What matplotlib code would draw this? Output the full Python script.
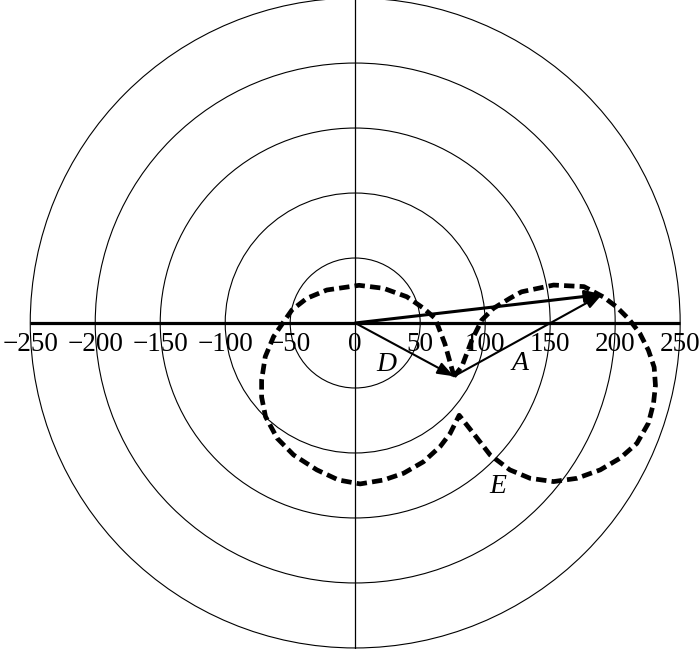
import matplotlib
matplotlib.use("Agg")
import matplotlib.pyplot as plt
from matplotlib.patches import Circle, FancyArrowPatch

# ---- Data ----
ring_radii = [50, 100, 150, 200, 250]
tick_values = [-250, -200, -150, -100, -50, 0, 50, 100, 150, 200, 250]
tick_labels = ["\u2212250", "\u2212200", "\u2212150", "\u2212100", "\u221250",
               "0", "50", "100", "150", "200", "250"]

origin = (0, 0)
d_tip = (76, -41)      # end of vector D
a_tip = (190, 22)      # end of vector A (= D + A)

# locus E, traced from the upper cusp round the left lobe, then the right lobe
E_x = [76, 69, 61.5, 52.6, 39.7, 21.8, 3, -21.8, -37.2, -48.7, -55, -62.8, -69.2,
       -72, -72, -69, -60, -47.4, -29.5, -12.8, 3.8, 21.8, 37.2, 52.6, 65.4, 73,
       80, 91, 103.8, 119, 134.6, 152.6, 170.5, 188.5, 203.8, 216.7, 225.6, 229.5,
       231, 230, 225.6, 219, 211, 201, 191, 176, 152.6, 128, 119, 106.4, 97.4,
       89.8, 82, 76]
E_y = [-41, -16, 3.6, 11.3, 20.2, 26.7, 29, 25.4, 19, 10, 1, -10.5, -25.9,
       -44, -57, -72, -88.7, -101.5, -113, -120.8, -123.8, -120.8, -115.6, -106.7, -95, -85,
       -71, -85, -101.5, -113, -119.5, -122, -119.5, -113, -104, -92.6, -77, -61.8,
       -48, -34, -21, -8, 2.5, 12.5, 20, 28, 29.2, 24, 19, 11.3, 2.3,
       -13, -33.6, -41]

labels = {"D": (24, -32), "A": (127, -31), "E": (110, -126)}

# ---- Figure ----
fig = plt.figure(figsize=(7, 6.49), dpi=100)
ax = fig.add_axes([0, 0, 1, 1])
ax.set_xlim(-273, 265)
ax.set_ylim(-250.8, 248.5)
ax.set_aspect("equal")
ax.axis("off")

serif = ["Liberation Serif", "DejaVu Serif"]

for r in ring_radii:
    ax.add_patch(Circle(origin, r, fill=False, ec="black", lw=0.8))

ax.axvline(0, color="black", lw=0.9)
ax.plot([tick_values[0], tick_values[-1]], [0, 0], color="black", lw=2.3,
        solid_capstyle="butt")

for v, lab in zip(tick_values, tick_labels):
    ax.text(v, -7, lab, ha="center", va="top", fontsize=19.5, family=serif)

# locus E
ax.plot(E_x, E_y, color="black", lw=3.4, linestyle=(0, (2.2, 1.1)),
        dash_capstyle="butt", zorder=3)

# vectors
def arrow(p0, p1, lw):
    ax.add_patch(FancyArrowPatch(p0, p1, arrowstyle="-|>,head_length=0.9,head_width=0.33",
                                 mutation_scale=11, color="black", lw=lw,
                                 shrinkA=0, shrinkB=0, zorder=4))

arrow(origin, d_tip, 1.5)
arrow(d_tip, a_tip, 1.5)
arrow(origin, a_tip, 2.2)

for name, (x, y) in labels.items():
    ax.text(x, y, name, ha="center", va="center", fontsize=20,
            family=serif, style="italic")

fig.savefig("out.png", dpi=100)
